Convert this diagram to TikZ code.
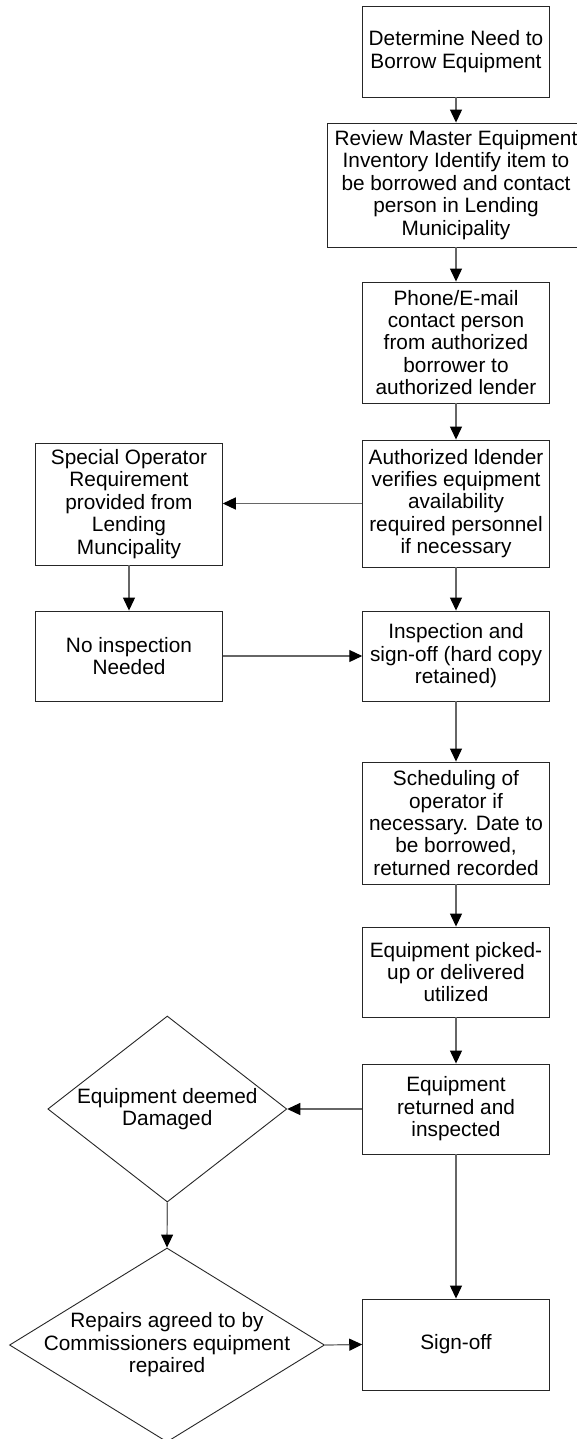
\documentclass[tikz,border=0pt]{standalone}
\usepackage{fontspec}
\setmainfont{Liberation Sans}
\usetikzlibrary{shapes.geometric,arrows.meta}

\begin{document}
\begin{tikzpicture}[x=1pt,y=-1pt,
  txt/.style={font=\fontsize{20.8}{22.4}\selectfont, align=center, inner sep=0pt},
  stepbox/.style={txt, draw=black!85, line width=0.9pt, fill=white,
    minimum width=186.6pt, rectangle},
  decision/.style={diamond, draw=black!85, line width=0.9pt, inner sep=0pt},
  conn/.style={draw=black!60, line width=1.2pt,
    -{Triangle[length=13pt,width=12pt,fill=black,color=black]}}
]
\useasboundingbox (0,0) rectangle (576,1439);
\fill[white] (0,0) rectangle (576,1439);

% main column
\node[stepbox, minimum height=91pt] (b1) at (456,51.5)
  {Determine Need to\\Borrow Equipment};
\node[stepbox, minimum height=124pt, minimum width=258pt] (b2) at (456,185)
  {Review Master Equipment\\Inventory Identify item to\\be borrowed and contact\\person in Lending\\Municipality};
\node[stepbox, minimum height=121pt] (b3) at (456,342.5)
  {Phone/E-mail\\contact person\\from authorized\\borrower to\\authorized lender};
\node[stepbox, minimum height=127pt] (b4) at (456,503.5)
  {Authorized ldender\\verifies equipment\\availability\\required personnel\\if necessary};
\node[stepbox, minimum height=90pt] (b5) at (456,656)
  {Inspection and\\sign-off (hard copy\\retained)};
\node[stepbox, minimum height=122pt] (b6) at (456,823)
  {Scheduling of\\operator if\\necessary. Date to\\be borrowed,\\returned recorded};
\node[stepbox, minimum height=90pt] (b7) at (456,972)
  {Equipment picked-\\up or delivered\\utilized};
\node[stepbox, minimum height=90pt] (b8) at (456,1109)
  {Equipment\\returned and\\inspected};
\node[stepbox, minimum height=91pt] (so) at (456,1344.5)
  {Sign-off};

% left column
\node[stepbox, minimum height=122pt] (sp) at (129,504)
  {Special Operator\\Requirement\\provided from\\Lending\\Muncipality};
\node[stepbox, minimum height=90pt] (ni) at (129,656)
  {No inspection\\Needed};

% decisions
\node[decision, minimum width=239pt, minimum height=186pt] (d1) at (167.3,1109) {};
\node[txt] (d1t) at (d1.center) {Equipment deemed\\Damaged};
\node[decision, minimum width=315pt, minimum height=194pt] (d2) at (167,1345) {};
\node[txt] (d2t) at (d2.center) {Repairs agreed to by\\Commissioners equipment\\repaired};

% connectors
\draw[conn] (b1.south) -- (b2.north);
\draw[conn] (b2.south) -- (b3.north);
\draw[conn] (b3.south) -- (b4.north);
\draw[conn] (b4.west) -- (b4.west -| sp.east);
\draw[conn] (b4.south) -- (b5.north);
\draw[conn] (sp.south) -- (ni.north);
\draw[conn] (ni.east) -- (ni.east -| b5.west);
\draw[conn] (b5.south) -- (b6.north);
\draw[conn] (b6.south) -- (b7.north);
\draw[conn] (b7.south) -- (b8.north);
\draw[conn] (b8.west) -- (d1.east);
\draw[conn] (d1.south) -- (d2.north);
\draw[conn] (b8.south) -- (so.north);
\draw[conn] (d2.east) -- (so.west);
\end{tikzpicture}
\end{document}
